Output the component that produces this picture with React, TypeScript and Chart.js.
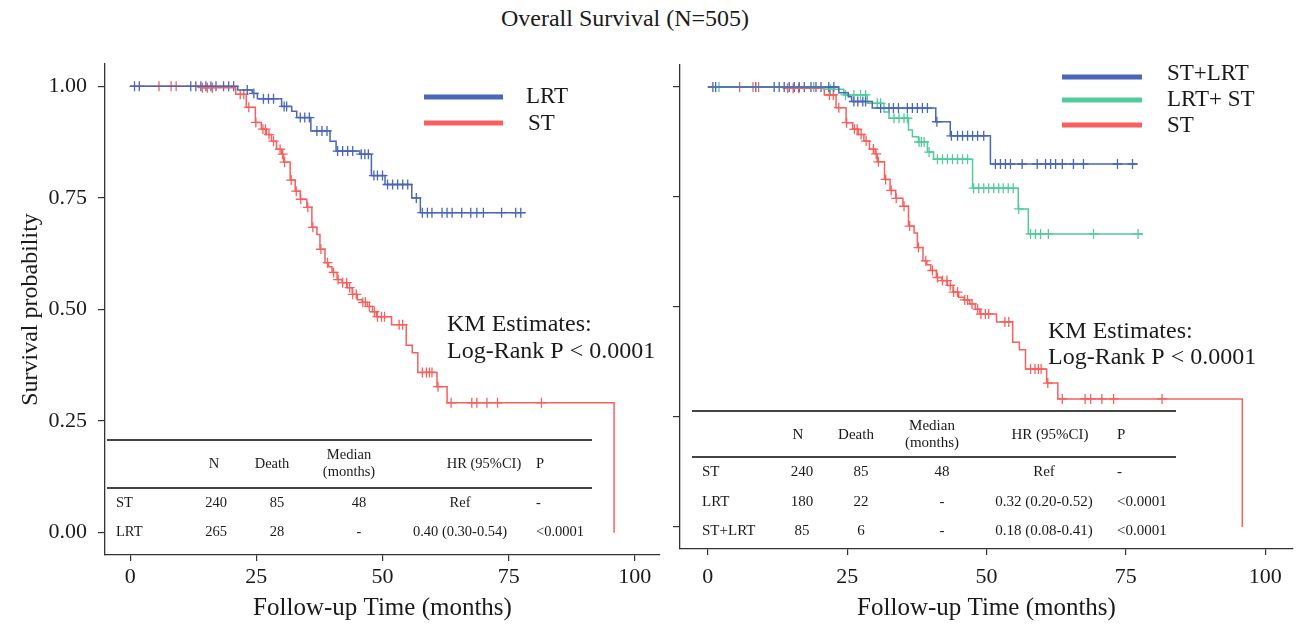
import React, { useEffect, useRef } from "react";
import { Chart, registerables } from "chart.js";
Chart.register(...registerables);

const FONT = '"Liberation Serif", "Times New Roman", Times, serif';

const TITLE = "Overall Survival (N=505)";
const X_TITLE = "Follow-up Time (months)";
const Y_TITLE = "Survival probability";
const X_TICKS = [0, 25, 50, 75, 100];
const Y_TICKS = [0, 0.25, 0.5, 0.75, 1];

// ST group: event times and survival after each step
const ST_TIMES = [0, 14, 20.9, 23, 24.8, 26, 27, 28, 29, 30, 30.4, 31.7, 32.7, 33.7, 35, 36, 37, 37.6, 38.6, 39.3, 40, 41, 42, 43, 44, 45, 46, 47, 48, 48.8, 51.8, 54.7, 55.9, 57, 60.8, 62.8, 95.9];
const ST_SURV = [1, 0.997, 0.982, 0.953, 0.919, 0.904, 0.892, 0.877, 0.859, 0.848, 0.83, 0.79, 0.765, 0.747, 0.729, 0.684, 0.668, 0.635, 0.605, 0.596, 0.583, 0.567, 0.56, 0.549, 0.534, 0.522, 0.516, 0.507, 0.495, 0.484, 0.466, 0.42, 0.403, 0.359, 0.327, 0.291, 0];
const ST_CENSOR = [5.7, 8.1, 9.1, 14.3, 15.3, 16.3, 21.8, 22.5, 23.5, 24.9, 26.3, 26.8, 27.5, 28.4, 29.7, 30.2, 30.6, 31.9, 32.9, 33.8, 35.2, 36.2, 37.8, 39.1, 40.3, 41.2, 42.1, 42.9, 43.5, 44.1, 44.8, 46.1, 46.6, 47.4, 48.4, 49.0, 49.8, 50.4, 53.3, 54.0, 57.9, 58.7, 59.3, 59.8, 61.0, 63.6, 67.7, 68.7, 70.7, 72.8, 81.5];

// LRT group (left panel, N=265)
const LRT_TIMES = [0, 21.3, 24.2, 25.2, 30, 32, 33, 35.8, 39.6, 40.8, 45.5, 47.8, 50.5, 55.8, 57.5, 78.3];
const LRT_SURV = [1, 0.992, 0.984, 0.972, 0.955, 0.944, 0.93, 0.9, 0.877, 0.855, 0.848, 0.8, 0.78, 0.75, 0.717, 0.717];
const LRT_CENSOR = [0.85, 1.8, 12, 13, 14, 15, 16, 17, 18.5, 19.5, 20.5, 23.2, 24.5, 26.4, 27.4, 28.4, 30.5, 31, 33.7, 34.6, 35.5, 37, 38, 39, 41.1, 42.1, 43.1, 44.1, 45.8, 46.5, 47.2, 48.3, 49, 50, 51, 52, 53, 54, 55, 56.7, 57.9, 58.9, 59.8, 61.8, 62.8, 63.8, 65.7, 67.5, 68.7, 70, 73.6, 76.4, 77.4];

// ST+LRT group (right panel, N=85)
const SL_TIMES = [0, 23.5, 25.2, 25.8, 29.5, 40.9, 43.5, 50.7, 77.1];
const SL_SURV = [1, 0.987, 0.978, 0.967, 0.952, 0.921, 0.889, 0.825, 0.825];
const SL_CENSOR = [0.9, 1.4, 8.6, 11.9, 12.8, 13.7, 14.6, 15.5, 16.4, 17.3, 18.5, 19.4, 20.3, 21.7, 22.6, 26.2, 26.9, 27.8, 28.3, 31, 32.5, 33.3, 34.2, 35.8, 36.7, 37.6, 38.5, 39.4, 41.1, 43.7, 44.8, 45.7, 46.6, 47.5, 48.4, 49.5, 51.6, 52.5, 53.4, 54.3, 56.4, 59.1, 60.6, 61.5, 62.4, 63.6, 65.6, 67.4, 73.5, 76.2];

// LRT group (right panel, N=180)
const LR_TIMES = [0, 20.8, 24.4, 28.6, 31.6, 32.5, 36, 36.7, 37.8, 39.4, 40.5, 47.5, 55.7, 57.5, 78];
const LR_SURV = [1, 0.995, 0.982, 0.963, 0.943, 0.929, 0.902, 0.887, 0.875, 0.852, 0.836, 0.77, 0.723, 0.666, 0.666];
const LR_CENSOR = [2, 19, 22, 24.7, 26.2, 27.4, 28.3, 30.4, 31, 33.4, 34.3, 35.2, 35.8, 37.9, 38.3, 38.8, 39.7, 41.2, 42.1, 43, 43.9, 44.8, 45.7, 46.6, 47.7, 48.6, 49.5, 50.4, 51.3, 52.2, 53, 53.9, 54.8, 55.8, 57.9, 58.8, 59.7, 61.1, 69.2, 77.2];

const LEFT_LEGEND = ["LRT", "ST"];
const RIGHT_LEGEND = ["ST+LRT", "LRT+ ST", "ST"];
const KM_LINES = ["KM Estimates:", "Log-Rank P < 0.0001"];

const TABLE_HEAD = ["N", "Death", "Median|(months)", "HR (95%CI)", "P"];
const LEFT_ROWS = [
  ["ST", "240", "85", "48", "Ref", "-"],
  ["LRT", "265", "28", "-", "0.40 (0.30-0.54)", "<0.0001"],
];
const RIGHT_ROWS = [
  ["ST", "240", "85", "48", "Ref", "-"],
  ["LRT", "180", "22", "-", "0.32 (0.20-0.52)", "<0.0001"],
  ["ST+LRT", "85", "6", "-", "0.18 (0.08-0.41)", "<0.0001"],
];

const BLUE = "#4A66B6";
const RED = "#F7605E";
const GREEN = "#52CB9A";
const AXIS = "#333333";
const TEXT = "#1a1a1a";

function stepPts(times: number[], surv: number[]) {
  return times.map((t, i) => ({ x: t, y: surv[i] }));
}
function censorPts(times: number[], surv: number[], cens: number[]) {
  return cens.map((c) => {
    let s = surv[0];
    for (let i = 0; i < times.length; i++) if (times[i] <= c) s = surv[i];
    return { x: c, y: s };
  });
}

function curve(times: number[], surv: number[], color: string) {
  return {
    data: stepPts(times, surv),
    borderColor: color,
    borderWidth: 1.5,
    stepped: "before",
    pointRadius: 0,
    fill: false,
  };
}
function marks(times: number[], surv: number[], cens: number[], color: string) {
  return {
    data: censorPts(times, surv, cens),
    showLine: false,
    pointStyle: "cross",
    pointRadius: 5,
    pointBorderWidth: 1.3,
    pointBorderColor: color,
    pointBackgroundColor: color,
    borderColor: color,
  };
}

type Item =
  | { k: "line"; x1: number; y1: number; x2: number; y2: number; c: string; w: number }
  | { k: "text"; x: number; y: number; t: string; a: CanvasTextAlign; s: number; c?: string };

function tableItems(
  rows: string[][],
  left: number,
  right: number,
  topY: number,
  headLineY: number,
  headY: number,
  rowYs: number[],
  labelX: number,
  headXs: number[],
  valXs: number[],
  pX: number,
  fs: number
): Item[] {
  const items: Item[] = [];
  items.push({ k: "line", x1: left, y1: topY, x2: right, y2: topY, c: "#444", w: 1.8 });
  items.push({ k: "line", x1: left, y1: headLineY, x2: right, y2: headLineY, c: "#444", w: 1.8 });
  TABLE_HEAD.forEach((h, i) => {
    if (i === 4) {
      items.push({ k: "text", x: pX, y: headY, t: h, a: "left", s: fs });
    } else if (h.includes("|")) {
      const [a, b] = h.split("|");
      items.push({ k: "text", x: headXs[i], y: headY - 8.5, t: a, a: "center", s: fs });
      items.push({ k: "text", x: headXs[i], y: headY + 8.5, t: b, a: "center", s: fs });
    } else {
      items.push({ k: "text", x: headXs[i], y: headY, t: h, a: "center", s: fs });
    }
  });
  rows.forEach((r, ri) => {
    const y = rowYs[ri];
    items.push({ k: "text", x: labelX, y, t: r[0], a: "left", s: fs });
    for (let j = 1; j <= 4; j++) items.push({ k: "text", x: valXs[j - 1], y, t: r[j], a: "center", s: fs });
    items.push({ k: "text", x: pX, y, t: r[5], a: "left", s: fs });
  });
  return items;
}

const LEFT_ITEMS: Item[] = [
  { k: "line", x1: 424, y1: 97, x2: 503, y2: 97, c: BLUE, w: 5 },
  { k: "line", x1: 424, y1: 123, x2: 503, y2: 123, c: RED, w: 5 },
  { k: "text", x: 526, y: 97, t: LEFT_LEGEND[0], a: "left", s: 23 },
  { k: "text", x: 528, y: 124, t: LEFT_LEGEND[1], a: "left", s: 23 },
  { k: "text", x: 447, y: 325, t: KM_LINES[0], a: "left", s: 24 },
  { k: "text", x: 447, y: 352, t: KM_LINES[1], a: "left", s: 24 },
  ...tableItems(LEFT_ROWS, 107, 592, 440, 488, 464, [503, 532], 116, [214, 272, 349, 484], [216, 277, 359, 460], 536, 14.5),
];

const RIGHT_ITEMS: Item[] = [
  { k: "line", x1: 1062, y1: 77, x2: 1142, y2: 77, c: BLUE, w: 5 },
  { k: "line", x1: 1062, y1: 100, x2: 1142, y2: 100, c: GREEN, w: 5 },
  { k: "line", x1: 1062, y1: 125, x2: 1142, y2: 125, c: RED, w: 5 },
  { k: "text", x: 1167, y: 74, t: RIGHT_LEGEND[0], a: "left", s: 23 },
  { k: "text", x: 1167, y: 100, t: RIGHT_LEGEND[1], a: "left", s: 23 },
  { k: "text", x: 1167, y: 126, t: RIGHT_LEGEND[2], a: "left", s: 23 },
  { k: "text", x: 1048, y: 332, t: KM_LINES[0], a: "left", s: 24 },
  { k: "text", x: 1048, y: 358, t: KM_LINES[1], a: "left", s: 24 },
  ...tableItems(RIGHT_ROWS, 692, 1176, 411, 457, 435, [472, 502, 531], 702, [798, 856, 932, 1050], [802, 861, 942, 1044], 1117, 15),
];

const annotPlugin = {
  id: "annot",
  afterDraw(chart: any, _args: any, opts: any) {
    const ctx = chart.ctx as CanvasRenderingContext2D;
    const items: Item[] = opts.items || [];
    const ox = opts.offsetX || 0;
    ctx.save();
    for (const it of items) {
      if (it.k === "line") {
        ctx.strokeStyle = it.c;
        ctx.lineWidth = it.w;
        ctx.lineCap = "butt";
        ctx.beginPath();
        ctx.moveTo(it.x1 - ox, it.y1);
        ctx.lineTo(it.x2 - ox, it.y2);
        ctx.stroke();
      } else {
        ctx.fillStyle = it.c || TEXT;
        ctx.font = `${it.s}px ${FONT}`;
        ctx.textAlign = it.a;
        ctx.textBaseline = "middle";
        ctx.fillText(it.t, it.x - ox, it.y);
      }
    }
    ctx.restore();
  },
};

function makeConfig(
  datasets: any[],
  p: { padTop: number; padRight: number; yWidth: number; xHeight: number; yLabels: boolean; tickPad: number; items: Item[]; offsetX: number }
): any {
  return {
    type: "line",
    data: { datasets },
    plugins: [annotPlugin],
    options: {
      animation: false,
      responsive: false,
      maintainAspectRatio: false,
      events: [],
      layout: { padding: { top: p.padTop, right: p.padRight, left: 0, bottom: 0 }, autoPadding: false },
      plugins: {
        legend: { display: false },
        tooltip: { enabled: false },
        annot: { items: p.items, offsetX: p.offsetX },
      },
      scales: {
        x: {
          type: "linear",
          min: -5,
          max: 105,
          afterBuildTicks: (s: any) => {
            s.ticks = X_TICKS.map((v) => ({ value: v }));
          },
          afterFit: (s: any) => {
            s.height = p.xHeight;
          },
          grid: { display: true, drawOnChartArea: false, drawTicks: true, tickLength: 6, color: AXIS, lineWidth: 1.2 },
          border: { display: true, color: AXIS, width: 1.3 },
          ticks: { font: { family: FONT, size: 22 }, color: TEXT, padding: p.tickPad, maxRotation: 0, autoSkip: false },
          title: { display: true, text: X_TITLE, font: { family: FONT, size: 25 }, color: TEXT, padding: { top: 0, bottom: 4 } },
        },
        y: {
          type: "linear",
          min: -0.05,
          max: 1.05,
          afterBuildTicks: (s: any) => {
            s.ticks = Y_TICKS.map((v) => ({ value: v }));
          },
          afterFit: (s: any) => {
            s.width = p.yWidth;
          },
          grid: { display: true, drawOnChartArea: false, drawTicks: true, tickLength: 7, color: AXIS, lineWidth: 1.2 },
          border: { display: true, color: AXIS, width: 1.3 },
          ticks: {
            display: p.yLabels,
            font: { family: FONT, size: 22 },
            color: TEXT,
            padding: 11,
            callback: (v: any) => Number(v).toFixed(2),
          },
          title: p.yLabels
            ? { display: true, text: Y_TITLE, font: { family: FONT, size: 24 }, color: TEXT, padding: { top: 16, bottom: 0 } }
            : { display: false },
        },
      },
    },
  };
}

export default function App() {
  const leftRef = useRef<HTMLCanvasElement>(null);
  const rightRef = useRef<HTMLCanvasElement>(null);

  useEffect(() => {
    Chart.defaults.font.family = FONT;
    const left = new Chart(
      leftRef.current as HTMLCanvasElement,
      makeConfig(
        [
          curve(LRT_TIMES, LRT_SURV, BLUE),
          curve(ST_TIMES, ST_SURV, RED),
          marks(LRT_TIMES, LRT_SURV, LRT_CENSOR, BLUE),
          marks(ST_TIMES, ST_SURV, ST_CENSOR, RED),
        ],
        { padTop: 64, padRight: 8, yWidth: 105, xHeight: 72, yLabels: true, tickPad: 3, items: LEFT_ITEMS, offsetX: 0 }
      )
    );
    const right = new Chart(
      rightRef.current as HTMLCanvasElement,
      makeConfig(
        [
          curve(SL_TIMES, SL_SURV, BLUE),
          curve(LR_TIMES, LR_SURV, GREEN),
          curve(ST_TIMES, ST_SURV, RED),
          marks(SL_TIMES, SL_SURV, SL_CENSOR, BLUE),
          marks(LR_TIMES, LR_SURV, LR_CENSOR, GREEN),
          marks(ST_TIMES, ST_SURV, ST_CENSOR, RED),
        ],
        { padTop: 65, padRight: 11, yWidth: 12, xHeight: 78, yLabels: false, tickPad: 9, items: RIGHT_ITEMS, offsetX: 668 }
      )
    );
    return () => {
      left.destroy();
      right.destroy();
    };
  }, []);

  return (
    <div style={{ position: "absolute", left: 0, top: 0, width: 1304, height: 627, background: "#fff", overflow: "hidden" }}>
      <div
        style={{
          position: "absolute",
          left: 0,
          top: 0,
          width: 1250,
          height: 36,
          lineHeight: "36px",
          textAlign: "center",
          fontFamily: FONT,
          fontSize: 24,
          color: TEXT,
        }}
      >
        {TITLE}
      </div>
      <canvas ref={leftRef} width={668} height={627} style={{ position: "absolute", left: 0, top: 0, width: 668, height: 627 }} />
      <canvas ref={rightRef} width={636} height={627} style={{ position: "absolute", left: 668, top: 0, width: 636, height: 627 }} />
    </div>
  );
}
